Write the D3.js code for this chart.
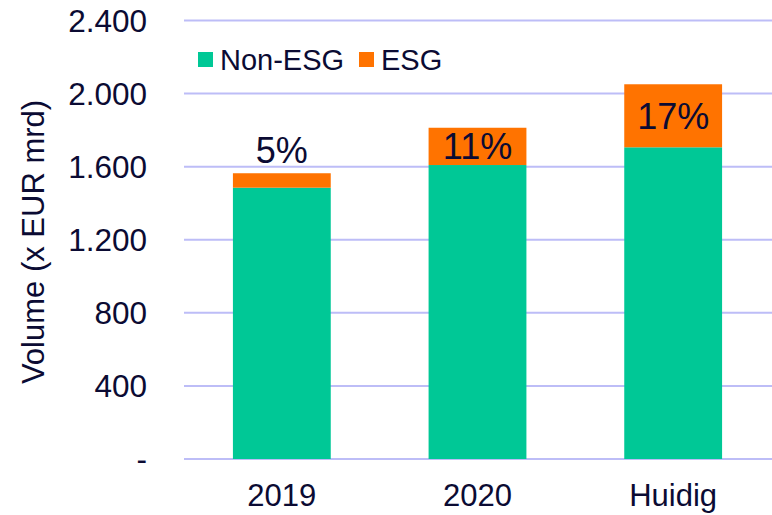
<!DOCTYPE html>
<html>
<head>
<meta charset="utf-8">
<script src="https://cdn.jsdelivr.net/npm/d3@7"></script>
<style>
  body { margin: 0; background: #fff; }
  svg { display: block; font-family: "Liberation Sans", Arial, sans-serif; }
</style>
</head>
<body>
<div id="chart"></div>
<script>
// data
const categories = ['2019', '2020', 'Huidig'];
const nonEsg = [1485, 1609, 1706];
const esg = [79, 204, 345];
const shareLabels = ['5%', '11%', '17%'];
const yTicks = [0, 400, 800, 1200, 1600, 2000, 2400];
const seriesNames = ['Non-ESG', 'ESG'];

const width = 772, height = 515;
const margin = { top: 20.5, right: 1, bottom: 56, left: 184 };
const textColor = '#0b0b33';
const colors = ['#00c896', '#ff7300'];

const svg = d3.select('#chart').append('svg')
  .attr('width', width)
  .attr('height', height);

const x = d3.scaleBand()
  .domain(categories)
  .range([margin.left, width - margin.right])
  .paddingInner(0.5)
  .paddingOuter(0.25);

const y = d3.scaleLinear()
  .domain([0, 2400])
  .range([height - margin.bottom, margin.top]);

// gridlines
svg.append('g')
  .selectAll('line')
  .data(yTicks)
  .join('line')
  .attr('x1', margin.left)
  .attr('x2', width)
  .attr('y1', d => y(d))
  .attr('y2', d => y(d))
  .attr('stroke', '#bdbdf7')
  .attr('stroke-width', 2);

// y tick labels
const fmt = d => d === 0 ? '-' : d3.format(',')(d).replace(',', '.');
svg.append('g')
  .selectAll('text')
  .data(yTicks)
  .join('text')
  .attr('x', 147)
  .attr('y', d => y(d))
  .attr('dy', '0.36em')
  .attr('text-anchor', 'end')
  .attr('font-size', 31.5)
  .attr('fill', textColor)
  .text(fmt);

// y axis title
svg.append('text')
  .attr('transform', 'translate(44,242) rotate(-90)')
  .attr('text-anchor', 'middle')
  .attr('font-size', 31)
  .attr('fill', textColor)
  .text('Volume (x EUR mrd)');

// stacked bars
const rows = categories.map((c, i) => ({ cat: c, 'Non-ESG': nonEsg[i], 'ESG': esg[i] }));
const stack = d3.stack().keys(seriesNames)(rows);

svg.append('g')
  .selectAll('g')
  .data(stack)
  .join('g')
  .attr('fill', (d, i) => colors[i])
  .selectAll('rect')
  .data(d => d)
  .join('rect')
  .attr('x', d => x(d.data.cat))
  .attr('width', x.bandwidth())
  .attr('y', d => y(d[1]))
  .attr('height', d => y(d[0]) - y(d[1]));

// share labels: centred in the ESG segment, or above it if it is too thin
svg.append('g')
  .selectAll('text')
  .data(stack[1])
  .join('text')
  .attr('x', d => x(d.data.cat) + x.bandwidth() / 2)
  .attr('y', d => {
    const h = y(d[0]) - y(d[1]);
    return h > 30 ? (y(d[0]) + y(d[1])) / 2 : y(d[1]) - 23;
  })
  .attr('dy', '0.36em')
  .attr('text-anchor', 'middle')
  .attr('font-size', 36)
  .attr('fill', textColor)
  .text((d, i) => shareLabels[i]);

// x labels
svg.append('g')
  .selectAll('text')
  .data(categories)
  .join('text')
  .attr('x', d => x(d) + x.bandwidth() / 2)
  .attr('y', 495)
  .attr('dy', '0.36em')
  .attr('text-anchor', 'middle')
  .attr('font-size', 31)
  .attr('fill', textColor)
  .text(d => d);

// legend
const legend = svg.append('g').attr('transform', 'translate(198,52)');
const legendX = [0, 161];
seriesNames.forEach((name, i) => {
  const g = legend.append('g').attr('transform', `translate(${legendX[i]},0)`);
  g.append('rect')
    .attr('width', 15)
    .attr('height', 15)
    .attr('fill', colors[i]);
  g.append('text')
    .attr('x', 22)
    .attr('y', 7.5)
    .attr('dy', '0.36em')
    .attr('font-size', 29)
    .attr('fill', textColor)
    .text(name);
});
</script>
</body>
</html>
